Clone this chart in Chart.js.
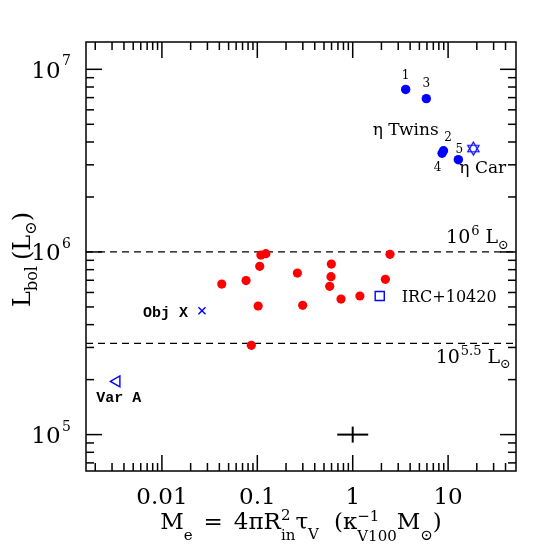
<!DOCTYPE html>
<html>
<head>
<meta charset="utf-8">
<script src="https://cdn.jsdelivr.net/npm/chart.js@4.4.0/dist/chart.umd.min.js"></script>
<style>
  html, body { margin: 0; padding: 0; background: #fff; }
  #wrap { width: 545px; height: 545px; }
</style>
</head>
<body>
<div id="wrap"><canvas id="chart" width="545" height="545"></canvas></div>
<script>
const SERIF = '"DejaVu Serif", serif';
const MONO = '"Liberation Mono", monospace';

// axis ranges: M_e (kappa^-1 Msun) and L_bol (Lsun)
const xRange = [0.0016, 51.5];
const yRange = [6.32e4, 1.411e7];

// major ticks and their labels
const xMajorTicks = [0.01, 0.1, 1, 10];
const xTickLabels = ['0.01', '0.1', '1', '10'];
const yMajorTicks = [1e5, 1e6, 1e7];
const yTickExps = ['5', '6', '7'];

// red sample
const redMe = [0.0424, 0.0762, 0.106, 0.109, 0.123, 0.102, 0.0865, 0.263, 0.299, 0.597, 0.592, 0.574, 0.754, 1.19, 2.20, 2.46];
const redL = [6.67e5, 6.97e5, 8.34e5, 9.62e5, 9.79e5, 5.06e5, 3.08e5, 7.66e5, 5.10e5, 8.58e5, 7.32e5, 6.48e5, 5.52e5, 5.74e5, 7.08e5, 9.70e5];

// eta Car twins (blue dots)
const twinNames = ['1', '2', '3', '4', '5'];
const twinMe = [3.59, 8.95, 5.91, 8.65, 12.8];
const twinL = [7.76e6, 3.58e6, 6.91e6, 3.47e6, 3.20e6];

// single objects
const etaCarMe = [18.4];
const etaCarL = [3.68e6];
const ircMe = [1.92];
const ircL = [5.74e5];
const objXMe = [0.0263];
const objXL = [4.77e5];
const varAMe = [0.00336];
const varAL = [1.956e5];

// reference luminosities (10^6 and 10^5.5 Lsun)
const refLevels = [1e6, 316228];

// typical error bar
const errCenter = [1, 1e5];
const errMe = [0.688, 1.454];
const errL = [9.04e4, 1.106e5];

function pts(xs, ys) {
  return xs.map((v, i) => ({ x: v, y: ys[i] }));
}

// hexagram marker for eta Car
function hexagram(r, color) {
  const c = document.createElement('canvas');
  const s = Math.ceil(r * 2 + 4);
  c.width = s; c.height = s;
  const g = c.getContext('2d');
  g.strokeStyle = color;
  g.lineWidth = 1.2;
  [-90, 90].forEach(start => {
    g.beginPath();
    for (let k = 0; k < 3; k++) {
      const a = (start + k * 120) * Math.PI / 180;
      const px = s / 2 + r * Math.cos(a), py = s / 2 + r * Math.sin(a);
      if (k === 0) g.moveTo(px, py); else g.lineTo(px, py);
    }
    g.closePath();
    g.stroke();
  });
  return c;
}

function partWidth(ctx, p) {
  if (p.gap) return p.gap;
  ctx.font = `${p.size}px ${p.family || SERIF}`;
  if (p.sup !== undefined) return Math.max(ctx.measureText(p.sup).width, ctx.measureText(p.sub).width);
  return ctx.measureText(p.t).width;
}

// draws text with sub/superscripts, parts laid left to right
function drawRich(ctx, parts, x, y, align) {
  const ws = parts.map(p => partWidth(ctx, p));
  const total = ws.reduce((a, b) => a + b, 0);
  let cx = align === 'center' ? x - total / 2 : align === 'right' ? x - total : x;
  ctx.textAlign = 'left';
  ctx.textBaseline = 'alphabetic';
  parts.forEach((p, i) => {
    if (!p.gap) {
      ctx.font = `${p.size}px ${p.family || SERIF}`;
      if (p.sup !== undefined) {
        ctx.fillText(p.sup, cx, y + p.up);
        ctx.fillText(p.sub, cx, y + p.down);
      } else {
        ctx.fillText(p.t, cx, y + (p.dy || 0));
      }
    }
    cx += ws[i];
  });
}

const xTitle = [
  { t: 'M', size: 23 }, { t: 'e', size: 15, dy: 11 }, { gap: 11 },
  { t: '=', size: 23 }, { gap: 11 },
  { t: '4\u03c0R', size: 23 }, { sup: '2', sub: 'in', size: 15, up: -9, down: 11 },
  { t: '\u03c4', size: 23 }, { t: 'V', size: 15, dy: 10 }, { gap: 15 },
  { t: '(\u03ba', size: 23 }, { sup: '\u22121', sub: 'V100', size: 15, up: -8, down: 12 },
  { t: 'M', size: 23 }, { t: '\u2299', size: 15, dy: 11 }, { t: ')', size: 23 }
];

const yTitle = [
  { t: 'L', size: 24 }, { t: 'bol', size: 16, dy: 7 }, { gap: 6 },
  { t: '(L', size: 24 }, { t: '\u2299', size: 16, dy: 6 }, { t: ')', size: 24 }
];

// frame, inward ticks, tick labels and all annotations
const decorPlugin = {
  id: 'decor',
  afterDatasetsDraw(chart) {
    const { ctx, chartArea: a, scales: { x, y } } = chart;
    ctx.save();
    ctx.strokeStyle = '#000';
    ctx.fillStyle = '#000';
    ctx.lineWidth = 1.5;
    ctx.strokeRect(a.left, a.top, a.right - a.left, a.bottom - a.top);

    const tick = (x1, y1, x2, y2) => {
      ctx.beginPath(); ctx.moveTo(x1, y1); ctx.lineTo(x2, y2); ctx.stroke();
    };
    const logTicks = (lo, hi) => {
      const out = [];
      for (let e = Math.floor(Math.log10(lo)); e <= Math.ceil(Math.log10(hi)); e++) {
        for (let m = 1; m <= 9; m++) {
          const v = m * Math.pow(10, e);
          if (v > lo && v < hi) out.push({ v, major: m === 1 });
        }
      }
      return out;
    };
    logTicks(xRange[0], xRange[1]).forEach(t => {
      const px = x.getPixelForValue(t.v);
      if (px < a.left + 2 || px > a.right - 2) return;
      const len = t.major ? 16 : 8;
      tick(px, a.bottom, px, a.bottom - len);
      tick(px, a.top, px, a.top + len);
    });
    logTicks(yRange[0], yRange[1]).forEach(t => {
      const py = y.getPixelForValue(t.v);
      if (py < a.top + 2 || py > a.bottom - 2) return;
      const len = t.major ? 16 : 8;
      tick(a.left, py, a.left + len, py);
      tick(a.right, py, a.right - len, py);
    });

    // x tick labels
    ctx.font = `23px ${SERIF}`;
    ctx.textAlign = 'center';
    ctx.textBaseline = 'alphabetic';
    xMajorTicks.forEach((v, i) => {
      ctx.fillText(xTickLabels[i], x.getPixelForValue(v), a.bottom + 32.5);
    });
    // y tick labels 10^n
    yMajorTicks.forEach((v, i) => {
      const py = y.getPixelForValue(v);
      drawRich(ctx, [{ t: '10', size: 23 }, { gap: 1.5 }, { t: yTickExps[i], size: 14, dy: -12.5 }],
        a.left - 15, py + 8.5, 'right');
    });

    // axis titles
    drawRich(ctx, xTitle, (a.left + a.right) / 2, a.bottom + 57.5, 'center');
    ctx.save();
    ctx.translate(30, (a.top + a.bottom) / 2 + 3);
    ctx.rotate(-Math.PI / 2);
    drawRich(ctx, yTitle, 0, 0, 'center');
    ctx.restore();

    // reference line labels
    const y6 = y.getPixelForValue(refLevels[0]);
    drawRich(ctx, [
      { t: '10', size: 19 }, { gap: 1 }, { t: '6', size: 13, dy: -8 }, { gap: 6 },
      { t: 'L', size: 19 }, { t: '\u2299', size: 13, dy: 6 }
    ], a.right - 7, y6 - 9, 'right');
    const y55 = y.getPixelForValue(refLevels[1]);
    drawRich(ctx, [
      { t: '10', size: 19 }, { gap: 1 }, { t: '5.5', size: 13, dy: -8 }, { gap: 6 },
      { t: 'L', size: 19 }, { t: '\u2299', size: 13, dy: 5 }
    ], a.right - 5, y55 + 20, 'right');

    // object labels
    const at = (me, l) => [x.getPixelForValue(me), y.getPixelForValue(l)];
    ctx.textBaseline = 'alphabetic';
    let p = at(objXMe[0], objXL[0]);
    ctx.font = `bold 15px ${MONO}`;
    ctx.textAlign = 'right';
    ctx.fillText('Obj X', p[0] - 14, p[1] + 6.5);
    p = at(varAMe[0], varAL[0]);
    ctx.textAlign = 'center';
    ctx.fillText('Var A', p[0] + 2, p[1] + 20.5);
    p = at(ircMe[0], ircL[0]);
    ctx.font = `16px ${SERIF}`;
    ctx.textAlign = 'left';
    ctx.fillText('IRC+10420', p[0] + 22, p[1] + 6);
    p = at(twinMe[0], twinL[0]);
    ctx.font = `17px ${SERIF}`;
    ctx.textAlign = 'center';
    ctx.fillText('\u03b7 Twins', p[0], p[1] + 46);
    p = at(etaCarMe[0], etaCarL[0]);
    ctx.textAlign = 'left';
    ctx.fillText('\u03b7 Car', p[0] - 14, p[1] + 24.5);

    // twin numbers
    const numOff = [[0, -14], [4.5, -12.5], [0, -15], [-4.5, 15], [1, -10]];
    ctx.font = `12px ${SERIF}`;
    ctx.textAlign = 'center';
    ctx.textBaseline = 'middle';
    twinNames.forEach((n, i) => {
      const q = at(twinMe[i], twinL[i]);
      ctx.fillText(n, q[0] + numOff[i][0], q[1] + numOff[i][1]);
    });
    ctx.restore();
  }
};

const hLine = lvl => [{ x: xRange[0], y: lvl }, { x: xRange[1], y: lvl }];

new Chart(document.getElementById('chart'), {
  type: 'scatter',
  data: {
    datasets: [
      { data: pts(redMe, redL), pointStyle: 'circle', pointRadius: 4.6, backgroundColor: '#ff0000', borderWidth: 0 },
      { data: pts(twinMe, twinL), pointStyle: 'circle', pointRadius: 4.7, backgroundColor: '#0000ff', borderWidth: 0 },
      { data: pts(etaCarMe, etaCarL), pointStyle: hexagram(6.5, '#0000ff'), pointRadius: 7 },
      { data: pts(ircMe, ircL), pointStyle: 'rect', pointRadius: 6.4, backgroundColor: 'rgba(0,0,0,0)', borderColor: '#0000ff', borderWidth: 1.4 },
      { data: pts(objXMe, objXL), pointStyle: 'crossRot', pointRadius: 5, borderColor: '#0000ff', borderWidth: 1.4 },
      { data: pts(varAMe, varAL), pointStyle: 'triangle', rotation: -90, pointRadius: 6.3, backgroundColor: 'rgba(0,0,0,0)', borderColor: '#0000ff', borderWidth: 1.4 },
      { data: hLine(refLevels[0]), showLine: true, borderColor: '#000', borderWidth: 1.3, borderDash: [7, 5], pointRadius: 0 },
      { data: hLine(refLevels[1]), showLine: true, borderColor: '#000', borderWidth: 1.3, borderDash: [7, 5], pointRadius: 0 },
      { data: [{ x: errMe[0], y: errCenter[1] }, { x: errMe[1], y: errCenter[1] }], showLine: true, borderColor: '#000', borderWidth: 2, pointRadius: 0 },
      { data: [{ x: errCenter[0], y: errL[0] }, { x: errCenter[0], y: errL[1] }], showLine: true, borderColor: '#000', borderWidth: 2, pointRadius: 0 }
    ]
  },
  options: {
    responsive: false,
    animation: false,
    events: [],
    layout: { padding: { left: 86, right: 29, top: 42, bottom: 74 } },
    plugins: { legend: { display: false }, tooltip: { enabled: false } },
    scales: {
      x: { type: 'logarithmic', min: xRange[0], max: xRange[1], display: false },
      y: { type: 'logarithmic', min: yRange[0], max: yRange[1], display: false }
    }
  },
  plugins: [decorPlugin]
});
</script>
</body>
</html>
